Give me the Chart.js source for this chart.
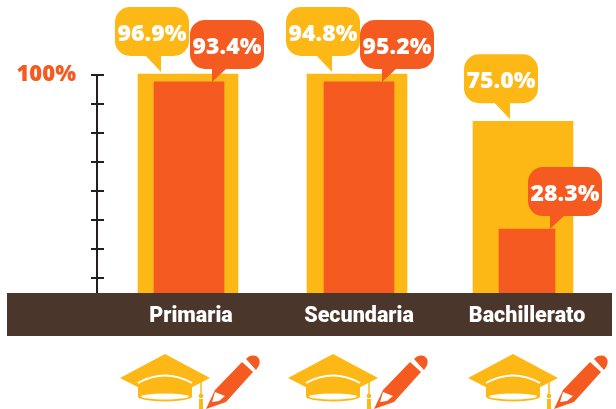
<!DOCTYPE html>
<html>
<head>
<meta charset="utf-8">
<title>Chart</title>
<style>
  html, body { margin: 0; padding: 0; background: #fff; }
  canvas { display: block; }
</style>
<script src="https://cdn.jsdelivr.net/npm/chart.js@4/dist/chart.umd.min.js"></script>
</head>
<body>
<canvas id="myPlot" width="616" height="409"></canvas>
<script>
const categories = ["Primaria", "Secundaria", "Bachillerato"];

// printed percentages
const goldLabels = [96.9, 94.8, 75.0];
const orangeLabels = [93.4, 95.2, 28.3];

// bar heights as drawn in the picture: the middle group is drawn like the first one
const goldBars = [96.9, 96.9, 76.0];
const orangeBars = [93.4, 93.4, 28.3];

const tickValues = [6.6, 19.5, 32.3, 45.1, 57.9, 70.8, 83.6, 96.5];
const tickLabels = ["", "", "", "", "", "", "", "100%"];

const GOLD = "#FEB816";
const ORANGE = "#F55B20";
const BROWN = "#4A362A";
const INK = "#231F20";

// small per-group corrections, the groups are not evenly placed
const goldNudge = [0, 1, -1];
const orangeNudge = [1, 3, 3];
const orangeWidth = [70, 70, 56];
const goldTip = [-27, -25, -13];
const iconNudge = [0, 0, 12];

function bubble(ctx, tipX, tipY, left, top, w, h, tailA, tailB, color, text) {
  ctx.fillStyle = color;
  ctx.beginPath();
  ctx.roundRect(tipX + left, tipY + top, w, h, 15);
  ctx.fill();
  ctx.beginPath();
  ctx.moveTo(tipX, tipY);
  ctx.lineTo(tipX + tailA, tipY + top + h - 1);
  ctx.lineTo(tipX + tailB, tipY + top + h - 1);
  ctx.closePath();
  ctx.fill();
  ctx.fillStyle = "#fff";
  ctx.font = "800 23px 'Open Sans'";
  ctx.textAlign = "center";
  ctx.textBaseline = "middle";
  ctx.fillText(text, tipX + left + w / 2, tipY + top + h / 2 + 3);
}

// hat and pencil, cx is the middle of the hat
function icon(ctx, cx) {
  ctx.save();
  ctx.translate(cx, 349);
  ctx.fillStyle = GOLD;
  ctx.beginPath();
  ctx.moveTo(-45, 29);
  ctx.lineTo(0, 5);
  ctx.lineTo(45, 29);
  ctx.lineTo(0, 52);
  ctx.closePath();
  ctx.fill();
  ctx.fillRect(-27, 32, 54, 16);
  ctx.beginPath();
  ctx.ellipse(0, 47.5, 27, 5, 0, 0, Math.PI * 2);
  ctx.fill();
  ctx.strokeStyle = "#fff";
  ctx.lineWidth = 2;
  ctx.beginPath();
  ctx.moveTo(-27, 34);
  ctx.quadraticCurveTo(0, 19, 27, 34);
  ctx.stroke();
  ctx.fillStyle = "#fff";
  ctx.beginPath();
  ctx.ellipse(0, 47.5, 24, 3, 0, 0, Math.PI * 2);
  ctx.fill();
  // tassel
  ctx.strokeStyle = GOLD;
  ctx.lineWidth = 1.5;
  ctx.beginPath();
  ctx.moveTo(36, 33);
  ctx.lineTo(36, 48);
  ctx.stroke();
  ctx.fillStyle = GOLD;
  ctx.beginPath();
  ctx.arc(36, 47, 2.3, 0, Math.PI * 2);
  ctx.fill();
  ctx.fillRect(34, 50, 4, 10);
  // pencil
  ctx.fillStyle = ORANGE;
  ctx.beginPath();
  ctx.moveTo(41, 60);
  ctx.lineTo(50, 41);
  ctx.lineTo(77, 13);
  ctx.lineTo(88, 23);
  ctx.lineTo(61, 53);
  ctx.closePath();
  ctx.fill();
  ctx.beginPath();
  ctx.moveTo(81, 10);
  ctx.bezierCurveTo(88, 2, 101, 9, 91, 21);
  ctx.closePath();
  ctx.fill();
  ctx.fillStyle = "#fff";
  ctx.beginPath();
  ctx.moveTo(47, 53);
  ctx.lineTo(50, 43);
  ctx.lineTo(60, 47);
  ctx.lineTo(54, 52);
  ctx.closePath();
  ctx.fill();
  ctx.restore();
}

const decorations = {
  id: "decorations",
  beforeDraw(chart) {
    const ctx = chart.ctx;
    const bottom = chart.scales.y.bottom;
    ctx.fillStyle = BROWN;
    ctx.fillRect(7, bottom, 605, 43);
  },
  afterDatasetUpdate(chart, args) {
    const nudge = args.index === 0 ? goldNudge : orangeNudge;
    chart.getDatasetMeta(args.index).data.forEach((bar, i) => {
      bar.x += nudge[i];
      if (args.index === 1) bar.width = orangeWidth[i];
    });
  },
  afterDraw(chart) {
    const ctx = chart.ctx;
    const yScale = chart.scales.y;
    const xScale = chart.scales.x;
    // axis line through the tick marks
    ctx.fillStyle = INK;
    ctx.fillRect(yScale.right - 8, yScale.getPixelForValue(tickValues[7]), 2, yScale.bottom - yScale.getPixelForValue(tickValues[7]));

    const gold = chart.getDatasetMeta(0).data;
    const orange = chart.getDatasetMeta(1).data;
    gold.forEach((bar, i) => {
      bubble(ctx, bar.x + goldTip[i], bar.y - 2, -46, -65, 74, 49, -16, 0, GOLD, goldLabels[i].toFixed(1) + "%");
    });
    orange.forEach((bar, i) => {
      bubble(ctx, bar.x + 23, bar.y, -22, -62, 74, 49, 0, 15, ORANGE, orangeLabels[i].toFixed(1) + "%");
    });
    categories.forEach((c, i) => {
      icon(ctx, xScale.getPixelForTick(i) - 23 + iconNudge[i]);
    });
  }
};

new Chart(document.getElementById("myPlot").getContext("2d"), {
  type: "bar",
  data: {
    labels: categories,
    datasets: [{
      label: "gold",
      data: goldBars,
      backgroundColor: GOLD,
      barThickness: 100,
      grouped: false,
      order: 2
    }, {
      label: "orange",
      data: orangeBars,
      backgroundColor: ORANGE,
      barThickness: 70,
      grouped: false,
      order: 1
    }]
  },
  options: {
    responsive: false,
    animation: false,
    layout: { padding: { top: 67, right: 8, left: 0, bottom: 0 } },
    plugins: { legend: { display: false }, tooltip: { enabled: false } },
    scales: {
      x: {
        grid: { display: false },
        border: { display: false },
        afterFit: s => { s.height = 116; },
        ticks: {
          color: "#fff",
          padding: 3,
          labelOffset: 3,
          maxRotation: 0,
          font: { family: "Roboto", weight: "900", size: 21.5 }
        }
      },
      y: {
        min: 0,
        max: 100,
        afterFit: s => { s.width = 104; },
        afterBuildTicks: s => { s.ticks = tickValues.map(v => ({ value: v })); },
        border: { display: false },
        grid: { drawOnChartArea: false, color: INK, lineWidth: 2, tickLength: 13 },
        ticks: {
          color: ORANGE,
          padding: 15,
          autoSkip: false,
          font: { family: "Open Sans", weight: "800", size: 22 },
          callback: (v, i) => tickLabels[i]
        }
      }
    }
  },
  plugins: [decorations]
});
</script>
</body>
</html>
